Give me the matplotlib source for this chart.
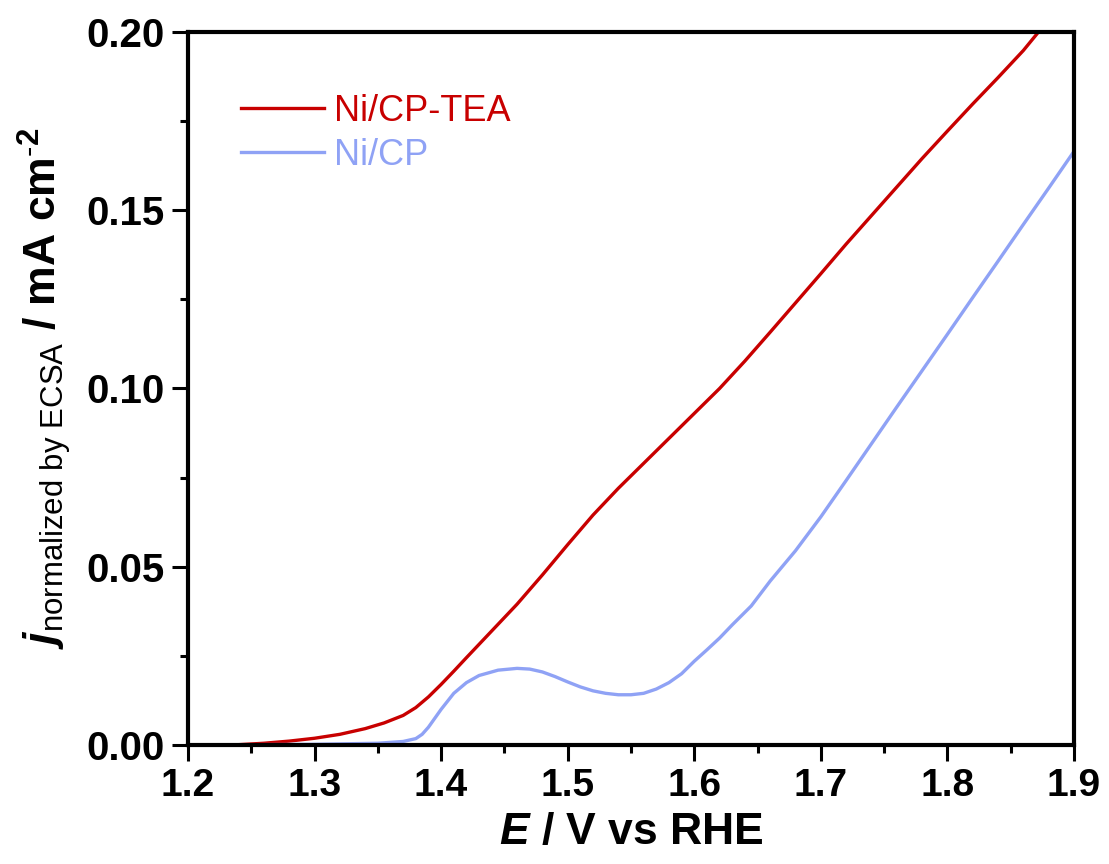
import numpy as np
import matplotlib
matplotlib.use('Agg')
import matplotlib.pyplot as plt
from matplotlib.ticker import MultipleLocator

# Ni/CP-TEA (red)
e_tea = [1.20, 1.24, 1.26, 1.28, 1.30, 1.32, 1.34, 1.355, 1.37, 1.38, 1.39, 1.40,
         1.41, 1.42, 1.44, 1.46, 1.48, 1.50, 1.52, 1.54, 1.56, 1.58, 1.60, 1.62,
         1.64, 1.66, 1.68, 1.70, 1.72, 1.74, 1.76, 1.78, 1.80, 1.82, 1.84, 1.86, 1.872]
j_tea = [0.0, 0.0001, 0.0005, 0.0011, 0.0019, 0.0030, 0.0046, 0.0062, 0.0083, 0.0105,
         0.0135, 0.0170, 0.0207, 0.0245, 0.0320, 0.0395, 0.0477, 0.0562, 0.0645,
         0.0720, 0.0790, 0.0860, 0.0930, 0.1000, 0.1077, 0.1158, 0.1240, 0.1322,
         0.1405, 0.1485, 0.1565, 0.1645, 0.1722, 0.1798, 0.1872, 0.1948, 0.2000]

# Ni/CP (blue)
e_cp = [1.20, 1.30, 1.35, 1.37, 1.38, 1.385, 1.39, 1.395, 1.40, 1.41, 1.42, 1.43,
        1.445, 1.46, 1.47, 1.48, 1.49, 1.50, 1.51, 1.52, 1.53, 1.54, 1.55, 1.56,
        1.57, 1.58, 1.59, 1.60, 1.61, 1.62, 1.63, 1.645, 1.66, 1.68, 1.70, 1.72,
        1.74, 1.76, 1.78, 1.80, 1.82, 1.84, 1.86, 1.88, 1.90]
j_cp = [0.0, 0.0002, 0.0005, 0.0010, 0.0018, 0.0030, 0.0050, 0.0075, 0.0100, 0.0145,
        0.0175, 0.0195, 0.0210, 0.0215, 0.0213, 0.0205, 0.0192, 0.0177, 0.0163,
        0.0152, 0.0145, 0.0141, 0.0141, 0.0145, 0.0157, 0.0175, 0.0200, 0.0235,
        0.0267, 0.0300, 0.0337, 0.0390, 0.0460, 0.0545, 0.0640, 0.0742, 0.0845,
        0.0948, 0.1050, 0.1152, 0.1255, 0.1357, 0.1460, 0.1562, 0.1665]

labels = ['Ni/CP-TEA', 'Ni/CP']
colors = ['#C80000', '#8FA2F5']

plt.rcParams['font.family'] = ['Liberation Sans', 'DejaVu Sans']
plt.rcParams['mathtext.fontset'] = 'custom'
plt.rcParams['mathtext.rm'] = 'Liberation Sans'
plt.rcParams['mathtext.it'] = 'Liberation Sans:italic:bold'
plt.rcParams['mathtext.bf'] = 'Liberation Sans:bold'

fig = plt.figure(figsize=(11.09, 8.64), dpi=100)
ax = fig.add_axes([0.1695, 0.1377, 0.7989, 0.8253])

ax.plot(e_tea, j_tea, color=colors[0], lw=2.4, label=labels[0])
ax.plot(e_cp, j_cp, color=colors[1], lw=2.4, label=labels[1])

ax.set_xlim(1.2, 1.9)
ax.set_ylim(0.0, 0.2)
ax.xaxis.set_major_locator(MultipleLocator(0.1))
ax.xaxis.set_minor_locator(MultipleLocator(0.05))
ax.yaxis.set_major_locator(MultipleLocator(0.05))
ax.yaxis.set_minor_locator(MultipleLocator(0.025))
ax.xaxis.set_major_formatter(plt.FormatStrFormatter('%.1f'))
ax.yaxis.set_major_formatter(plt.FormatStrFormatter('%.2f'))

for s in ax.spines.values():
    s.set_linewidth(3)
ax.tick_params(which='major', direction='out', length=11.5, width=2.2, pad=5)
ax.tick_params(which='minor', direction='out', length=6, width=2.2)
ax.tick_params(axis='x', labelsize=28)
ax.tick_params(axis='y', labelsize=29)
for t in ax.get_xticklabels() + ax.get_yticklabels():
    t.set_fontweight('bold')

ax.set_xlabel(r'$\mathit{E}$' + ' / V vs RHE', fontsize=32, fontweight='bold', labelpad=6)
ax.set_ylabel(r'$\mathit{j}_{\mathrm{normalized\ by\ ECSA}}$' + ' / mA cm$^{\u2010\\mathbf{2}}$',
              fontsize=32, fontweight='bold', labelpad=10)

leg = ax.legend(loc='upper left', bbox_to_anchor=(0.039, 0.939), frameon=False,
                fontsize=26, handlelength=2.3, handletextpad=0.3, labelspacing=0.25,
                borderpad=0, labelcolor='linecolor')

fig.savefig('out.png', dpi=100)
